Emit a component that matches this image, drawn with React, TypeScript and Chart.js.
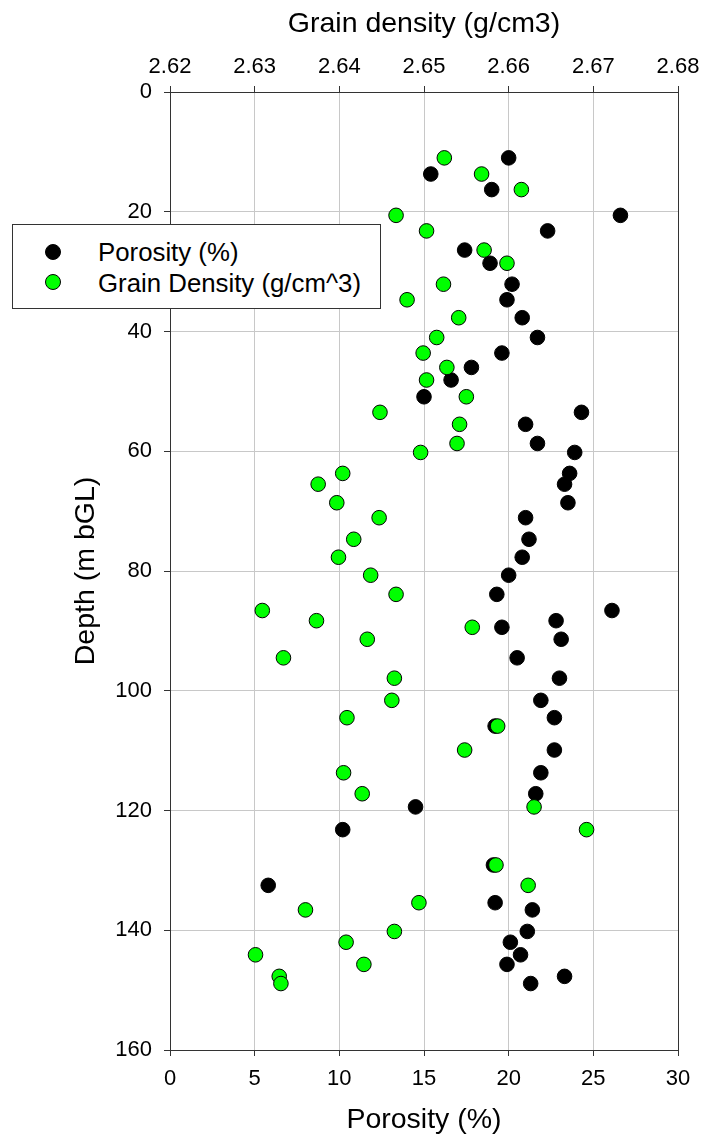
import React, { useEffect, useRef } from "react";
import { Chart, registerables } from "chart.js";

Chart.register(...registerables);

// Sample depths (m bGL), shared by both series
const depths = [
  11.0, 13.7, 16.3, 20.6, 23.2, 26.4, 28.6, 32.1, 34.7, 37.7,
  41.0, 43.6, 46.0, 48.1, 50.9, 53.5, 55.5, 58.7, 60.2, 63.7, 65.5, 68.6, 71.1, 74.7, 77.7,
  80.7, 83.9, 86.6, 88.3, 89.4, 91.4, 94.5, 97.9, 101.6, 104.5, 105.9, 109.9, 113.7, 117.2, 119.4,
  123.2, 129.1, 132.5, 135.4, 136.6, 140.2, 142.0, 144.1, 145.7, 147.7, 148.9,
];

// Porosity (%) — bottom axis
const porosity = [
  20.0, 15.4, 19.0, 26.6, 22.3, 17.4, 18.9, 20.2, 19.9, 20.8,
  21.7, 19.6, 17.8, 16.6, 15.0, 24.3, 21.0, 21.7, 23.9, 23.6, 23.3, 23.5, 21.0, 21.2, 20.8,
  20.0, 19.3, 26.1, 22.8, 19.6, 23.1, 20.5, 23.0, 21.9, 22.7, 19.2, 22.7, 21.9, 21.6, 14.5,
  10.2, 19.1, 5.8, 19.2, 21.4, 21.1, 20.1, 20.7, 19.9, 23.3, 21.3,
];

// Grain density (g/cm3) — top axis
const grainDensity = [
  2.6524, 2.6568, 2.6615, 2.6467, 2.6503, 2.6571, 2.6598, 2.6523, 2.648, 2.6541,
  2.6515, 2.6499, 2.6527, 2.6503, 2.655, 2.6448, 2.6542, 2.6539, 2.6496, 2.6404, 2.6375, 2.6397, 2.6447, 2.6417, 2.6399,
  2.6437, 2.6467, 2.6309, 2.6373, 2.6557, 2.6433, 2.6334, 2.6465, 2.6462, 2.6409, 2.6587, 2.6548, 2.6405, 2.6427, 2.663,
  2.6692, 2.6585, 2.6623, 2.6494, 2.636, 2.6465, 2.6408, 2.6301, 2.6429, 2.6329, 2.6331,
];

const porosityRange = [0, 30];
const densityRange = [2.62, 2.68];
const depthRange = [0, 160];

const seriesLabels = ["Porosity (%)", "Grain Density (g/cm^3)"];

const FONT = "'Liberation Sans', Arial, Helvetica, sans-serif";
const AXIS = "#333333";
const GRID = "#c8c8c8";

const align = (v: number) => Math.round(v - 0.5) + 0.5;

const framePlugin = {
  id: "frame",
  beforeDatasetsDraw(chart: any) {
    const { ctx, chartArea } = chart;
    const l = align(chartArea.left);
    const r = align(chartArea.right);
    const t = align(chartArea.top);
    const b = align(chartArea.bottom);
    ctx.save();
    ctx.strokeStyle = AXIS;
    ctx.lineWidth = 1;
    ctx.strokeRect(l, t, r - l, b - t);
    ctx.restore();
  },
};

export default function App() {
  const canvasRef = useRef<HTMLCanvasElement | null>(null);

  useEffect(() => {
    if (!canvasRef.current) return;
    const tickFont = { family: FONT, size: 22 };
    const titleFont = { family: FONT, size: 28.5 };
    const chart = new Chart(canvasRef.current, {
      type: "scatter",
      data: {
        datasets: [
          {
            label: seriesLabels[0],
            data: depths.map((d, i) => ({ x: porosity[i], y: d })),
            xAxisID: "x",
            yAxisID: "y",
            backgroundColor: "#000000",
            borderColor: "#000000",
            borderWidth: 1,
            pointRadius: 7.3,
            order: 1,
          },
          {
            label: seriesLabels[1],
            data: depths.map((d, i) => ({ x: grainDensity[i], y: d })),
            xAxisID: "x2",
            yAxisID: "y",
            backgroundColor: "#00ff00",
            borderColor: "#000000",
            borderWidth: 1,
            pointRadius: 7.3,
            order: 0,
          },
        ],
      },
      options: {
        responsive: false,
        animation: false,
        devicePixelRatio: 1,
        layout: { padding: { left: 0, right: 24, top: 0, bottom: 0 } },
        plugins: {
          legend: { display: false },
          tooltip: { enabled: false },
        },
        scales: {
          x: {
            type: "linear",
            position: "bottom",
            min: porosityRange[0],
            max: porosityRange[1],
            ticks: { stepSize: 5, padding: 10, color: "#000", font: tickFont },
            grid: { color: GRID, tickColor: AXIS, tickLength: 6, lineWidth: 1 },
            border: { color: AXIS, width: 1 },
            title: {
              display: true,
              text: "Porosity (%)",
              color: "#000",
              font: titleFont,
              padding: { top: 0, bottom: 9 },
            },
            afterFit: (s: any) => {
              s.height = 96;
              s.paddingLeft = 0;
              s.paddingRight = 0;
            },
          },
          x2: {
            type: "linear",
            position: "top",
            min: densityRange[0],
            max: densityRange[1],
            ticks: {
              stepSize: 0.01,
              padding: 6,
              color: "#000",
              font: tickFont,
              callback: (v: any) => Number(v).toFixed(2),
            },
            grid: { drawOnChartArea: false, color: GRID, tickColor: AXIS, tickLength: 6 },
            border: { color: AXIS, width: 1 },
            title: {
              display: true,
              text: "Grain density (g/cm3)",
              color: "#000",
              font: titleFont,
              padding: { top: 7, bottom: 0 },
            },
            afterFit: (s: any) => {
              s.height = 92;
              s.paddingLeft = 0;
              s.paddingRight = 0;
            },
          },
          y: {
            type: "linear",
            position: "left",
            reverse: true,
            min: depthRange[0],
            max: depthRange[1],
            ticks: { stepSize: 20, padding: 12, color: "#000", font: tickFont },
            grid: { color: GRID, tickColor: AXIS, tickLength: 6, lineWidth: 1 },
            border: { color: AXIS, width: 1 },
            title: {
              display: true,
              text: "Depth (m bGL)",
              color: "#000",
              font: titleFont,
              padding: { top: 69, bottom: 0 },
            },
            afterFit: (s: any) => {
              s.width = 170;
              s.paddingTop = 0;
              s.paddingBottom = 0;
            },
          },
        },
      },
      plugins: [framePlugin],
    } as any);
    return () => chart.destroy();
  }, []);

  const legendText: React.CSSProperties = {
    position: "absolute",
    left: 85,
    fontFamily: FONT,
    fontSize: 25.8,
    lineHeight: "30px",
    color: "#000",
    whiteSpace: "nowrap",
  };
  const marker = (bg: string, top: number): React.CSSProperties => ({
    position: "absolute",
    left: 32,
    top,
    width: 16,
    height: 16,
    borderRadius: "50%",
    background: bg,
    border: "1px solid #000",
    boxSizing: "border-box",
  });

  return (
    <div style={{ position: "absolute", left: 0, top: 0, width: 702, height: 1146, background: "#fff" }}>
      <canvas ref={canvasRef} width={702} height={1146} style={{ display: "block", width: 702, height: 1146 }} />
      <div
        style={{
          position: "absolute",
          left: 12,
          top: 224,
          width: 369,
          height: 85,
          boxSizing: "border-box",
          border: `1px solid ${AXIS}`,
          background: "#fff",
        }}
      >
        <div style={marker("#000000", 19)} />
        <div style={{ ...legendText, top: 12 }}>{seriesLabels[0]}</div>
        <div style={marker("#00ff00", 49)} />
        <div style={{ ...legendText, top: 43 }}>{seriesLabels[1]}</div>
      </div>
    </div>
  );
}
